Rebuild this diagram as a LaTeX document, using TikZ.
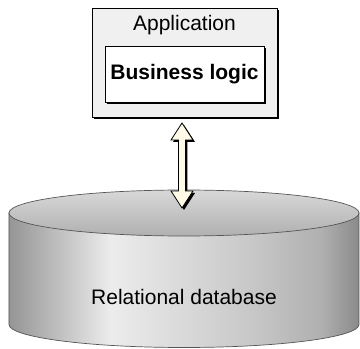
\documentclass[tikz,border=0pt]{standalone}
\usepackage{fontspec}
\setmainfont{Liberation Sans}
\usetikzlibrary{shadows,calc}

\definecolor{appgray}{HTML}{F0F0F0}
\definecolor{linkcream}{HTML}{FFFAE8}
\definecolor{dbedge}{HTML}{555555}
\definecolor{dbtoplight}{HTML}{D8D8D8}
\definecolor{dbtopdark}{HTML}{B0B0B0}
\definecolor{dbA}{HTML}{959595}
\definecolor{dbB}{HTML}{ECECEC}
\definecolor{dbC}{HTML}{C8C8C8}
\definecolor{dbD}{HTML}{B0B0B0}
\definecolor{dbE}{HTML}{8A8A8A}
\pgfdeclarehorizontalshading{dbside}{100bp}{color(0bp)=(dbA); color(25bp)=(dbA);
  color(39.5bp)=(dbB); color(59.5bp)=(dbC); color(69.5bp)=(dbD); color(75bp)=(dbE); color(100bp)=(dbE)}

\newcommand{\diagfont}{\fontsize{21}{25}\selectfont}

\tikzset{
  boxshadow/.style={drop shadow={shadow xshift=2.5pt, shadow yshift=-2.5pt, fill=black, opacity=1}},
  appbox/.style={draw, line width=0.9pt, fill=appgray, boxshadow, minimum width=185pt, minimum height=109pt, inner sep=0pt},
  logicbox/.style={draw, line width=0.9pt, fill=white, boxshadow, minimum width=159pt, minimum height=56pt, inner sep=0pt, font=\diagfont\bfseries},
  label/.style={inner sep=0pt, font=\diagfont},
  link/.style={draw, line width=0.8pt, fill=linkcream, preaction={fill=black, transform canvas={shift={(2pt,-2pt)}}}},
  dbline/.style={draw=dbedge, line width=0.7pt}
}

\begin{document}
\begin{tikzpicture}[x=1pt, y=1pt]
      \useasboundingbox (0,0) rectangle (360,349);
      % database cylinder
      \shade[shading=dbside, dbline] (9,136) -- (9,24.5) arc[start angle=180, end angle=360, x radius=175, y radius=23] -- (359,136) -- cycle;
      \shade[top color=dbtoplight, bottom color=dbtopdark, dbline] (184,136) ellipse[x radius=175, y radius=23];
      \node[label, anchor=center] (db) at (184,52) {Relational database};
      % application
      \node[appbox, anchor=center] (app) at (184.5,286.5) {};
      \node[label, anchor=center] (apptitle) at (184.5,324) {Application};
      \node[logicbox, anchor=center] (logic) at (184.5,275) {Business logic};
      % double arrow between application and database
      \coordinate (linktop) at (182,226);
      \coordinate (linkbot) at (182,141);
      \path[link] (linktop) -- ++(11,-17) -- ++(-7.5,0) -- ($(linkbot)+(3.5,17)$) -- ++(7.5,0)
        -- (linkbot) -- ++(-11,17) -- ++(7.5,0) -- ($(linktop)+(-3.5,-17)$) -- ++(-7.5,0) -- cycle;
    \end{tikzpicture}
\end{document}
